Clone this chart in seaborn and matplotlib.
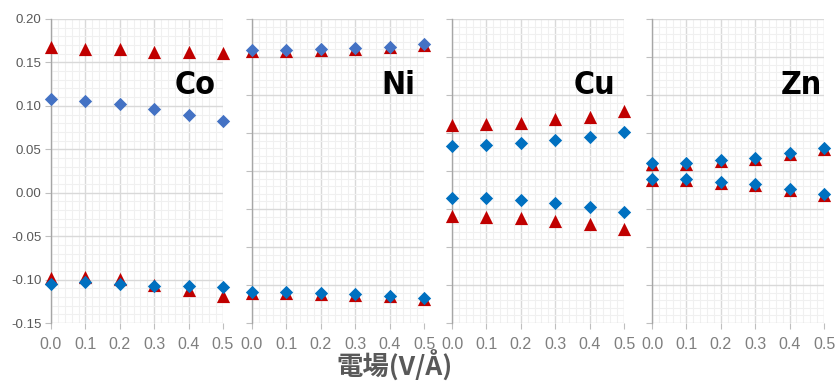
"""Orbital energy shift vs electric field for Co, Ni, Cu, Zn"""

import numpy as np
import pandas as pd
import matplotlib
matplotlib.use("Agg")
import matplotlib.pyplot as plt
from matplotlib.ticker import MultipleLocator, AutoMinorLocator
import seaborn as sns

sns.set_style("white")
plt.rcParams['font.family'] = ['Liberation Sans', 'Noto Sans CJK JP', 'DejaVu Sans']

field = [0.0, 0.1, 0.2, 0.3, 0.4, 0.5]
elements = ['Co', 'Ni', 'Cu', 'Zn']
x_label = '電場(V/Å)'

# values (Co on its own axis, others on a -0.2..0.2 axis)
co_up_tri = [0.168, 0.166, 0.165, 0.162, 0.162, 0.161]
co_up_dia = [0.108, 0.1056, 0.1025, 0.0967, 0.0898, 0.0826]
co_dn_tri = [-0.0985, -0.0966, -0.0996, -0.106, -0.112, -0.119]
co_dn_dia = [-0.1047, -0.103, -0.1054, -0.107, -0.1073, -0.108]

ni_up_tri = [0.158, 0.158, 0.1595, 0.1604, 0.1626, 0.1657]
ni_up_dia = [0.159, 0.159, 0.1605, 0.1614, 0.1636, 0.1667]
ni_dn_tri = [-0.160, -0.1607, -0.162, -0.163, -0.1651, -0.1686]
ni_dn_dia = [-0.1589, -0.1597, -0.161, -0.162, -0.1641, -0.1676]

cu_up_tri = [0.0605, 0.0618, 0.0627, 0.068, 0.0714, 0.0789]
cu_up_dia = [0.0333, 0.0342, 0.0364, 0.0408, 0.0451, 0.0517]
cu_dn_tri = [-0.0593, -0.061, -0.0623, -0.0658, -0.0702, -0.0767]
cu_dn_dia = [-0.036, -0.0352, -0.0382, -0.0425, -0.047, -0.0536]

zn_up_tri = [0.0088, 0.0088, 0.0131, 0.0161, 0.0227, 0.0293]
zn_up_dia = [0.0101, 0.0101, 0.0144, 0.0174, 0.024, 0.0306]
zn_dn_tri = [-0.0123, -0.0123, -0.0153, -0.0183, -0.025, -0.032]
zn_dn_dia = [-0.011, -0.011, -0.014, -0.017, -0.0237, -0.0307]

series = {
    'Co': [co_up_tri, co_dn_tri, co_up_dia, co_dn_dia],
    'Ni': [ni_up_tri, ni_dn_tri, ni_up_dia, ni_dn_dia],
    'Cu': [cu_up_tri, cu_dn_tri, cu_up_dia, cu_dn_dia],
    'Zn': [zn_up_tri, zn_dn_tri, zn_up_dia, zn_dn_dia],
}
kinds = ['up_tri', 'dn_tri', 'up_dia', 'dn_dia']

rows = []
for el in elements:
    for kind, vals in zip(kinds, series[el]):
        for e, v in zip(field, vals):
            rows.append({'element': el, 'kind': kind, 'E': e, 'value': v})
df = pd.DataFrame(rows)

red = '#C00000'
dia_colors = {
    'Co': ('#4472C4', '#0070C0'),
    'Ni': ('#4472C4', '#0070C0'),
    'Cu': ('#0070C0', '#0070C0'),
    'Zn': ('#0070C0', '#0070C0'),
}
label_x = {'Co': 0.84, 'Ni': 0.85, 'Cu': 0.826, 'Zn': 0.866}

fig = plt.figure(figsize=(8.35, 3.85), dpi=100)
lefts = [51, 252, 452, 652]
W, H = 835, 385

for el, left in zip(elements, lefts):
    ax = fig.add_axes([left / W, 1 - 323 / H, 172 / W, 304 / H])
    sub = df[df['element'] == el]
    for kind in kinds:
        d = sub[sub['kind'] == kind]
        if kind.endswith('tri'):
            sns.scatterplot(data=d, x='E', y='value', marker='^', color=red,
                            s=90, linewidth=0, ax=ax, zorder=3, clip_on=False)
        else:
            c = dia_colors[el][0] if kind.startswith('up') else dia_colors[el][1]
            sns.scatterplot(data=d, x='E', y='value', marker='D', color=c,
                            s=46, linewidth=0, ax=ax, zorder=4, clip_on=False)

    ax.set_xlim(0, 0.5)
    if el == 'Co':
        ax.set_ylim(-0.15, 0.20)
    else:
        ax.set_ylim(-0.20, 0.20)
    ax.xaxis.set_major_locator(MultipleLocator(0.1))
    ax.yaxis.set_major_locator(MultipleLocator(0.05))
    ax.xaxis.set_minor_locator(AutoMinorLocator(5))
    ax.yaxis.set_minor_locator(AutoMinorLocator(5))
    ax.grid(which='major', color='#D9D9D9', lw=1.0, zorder=0)
    ax.grid(which='minor', color='#F0F0F0', lw=0.8, zorder=0)
    ax.set_axisbelow(True)
    for s in ['top', 'right', 'bottom']:
        ax.spines[s].set_visible(False)
    ax.spines['left'].set_color('#A6A6A6')
    ax.spines['left'].set_linewidth(1.0)
    ax.tick_params(axis='both', which='major', length=4, width=0.8,
                   color='#BFBFBF', left=True, bottom=True)
    ax.tick_params(axis='both', which='minor', length=0)
    ax.tick_params(axis='x', labelsize=11.5, labelcolor='#7F7F7F', pad=6)
    ax.set_xticks(field)
    ax.set_xticklabels([f'{v:.1f}' for v in field])
    if el == 'Co':
        ax.set_yticks(np.round(np.arange(-0.15, 0.2001, 0.05), 2))
        ax.set_yticklabels([f'{v:.2f}' for v in np.arange(-0.15, 0.2001, 0.05)])
        ax.tick_params(axis='y', labelsize=9.5, labelcolor='#595959', pad=3)
    else:
        ax.tick_params(axis='y', labelleft=False)
    ax.set_xlabel('')
    ax.set_ylabel('')
    ax.text(label_x[el], 0.78, el, transform=ax.transAxes, ha='center', va='center',
            fontsize=23, fontweight='bold', fontstretch='condensed',
            family=['DejaVu Sans'], color='black', zorder=5)

fig.text(395 / W, 1 - 366 / H, x_label, ha='center', va='center', fontsize=19,
         fontweight='bold', color='#595959',
         family=['Noto Sans CJK JP', 'DejaVu Sans'])

fig.savefig('out.png', dpi=100)
